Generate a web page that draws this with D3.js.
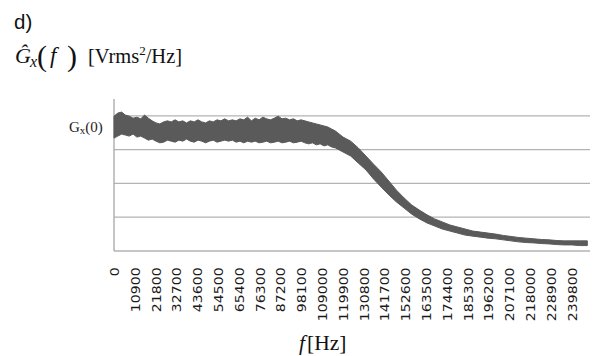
<!DOCTYPE html>
<html lang="en">
<head>
<meta charset="UTF-8" />
<title>Power spectral density</title>
<script src="https://d3js.org/d3.v7.min.js"></script>
<style>
  body { margin: 0; background: #fff; }
  svg { display: block; }
</style>
</head>
<body>
<script>
// frequency grid of the estimate [Hz]
const freqs = [
  0, 2000, 4000, 6000, 8000, 10000, 12000, 14000, 16000, 18000,
  20000, 22000, 24000, 26000, 28000, 30000, 32000, 34000, 36000, 38000,
  40000, 42000, 44000, 46000, 48000, 50000, 52000, 54000, 56000, 58000,
  60000, 62000, 64000, 66000, 68000, 70000, 72000, 74000, 76000, 78000,
  80000, 82000, 84000, 86000, 88000, 90000, 92000, 94000, 96000, 98000,
  100000, 102000, 104000, 106000, 108000, 110000, 112000, 114000, 116000, 118000,
  120000, 124000, 128000, 132000, 136000, 140000, 144000, 148000, 152000, 156000,
  160000, 164000, 168000, 172000, 176000, 180000, 184000, 188000, 192000, 196000,
  200000, 204000, 208000, 212000, 216000, 220000, 224000, 228000, 232000, 236000,
  240000, 244000, 248000
];

// upper / lower edge of the noisy estimate (grid units)
const upper = [
  3.99, 4.08, 4.11, 4.02, 3.99, 3.93, 3.96, 3.91, 4.02, 3.93,
  3.85, 3.79, 3.76, 3.82, 3.85, 3.82, 3.88, 3.82, 3.85, 3.79,
  3.85, 3.82, 3.88, 3.82, 3.79, 3.85, 3.82, 3.88, 3.85, 3.91,
  3.85, 3.88, 3.85, 3.91, 3.88, 3.96, 3.85, 3.93, 3.88, 3.96,
  3.91, 3.88, 3.93, 3.99, 3.91, 3.93, 3.88, 3.91, 3.85, 3.88,
  3.85, 3.82, 3.79, 3.76, 3.73, 3.70, 3.67, 3.61, 3.55, 3.46,
  3.37, 3.25, 3.05, 2.81, 2.57, 2.34, 2.07, 1.80, 1.57, 1.36,
  1.21, 1.07, 0.95, 0.86, 0.77, 0.71, 0.65, 0.59, 0.56, 0.53,
  0.50, 0.46, 0.43, 0.40, 0.38, 0.36, 0.34, 0.33, 0.31, 0.30,
  0.30, 0.30, 0.30
];
const lower = [
  3.34, 3.40, 3.46, 3.43, 3.40, 3.46, 3.37, 3.40, 3.34, 3.28,
  3.31, 3.25, 3.20, 3.22, 3.28, 3.25, 3.22, 3.28, 3.25, 3.31,
  3.25, 3.22, 3.28, 3.25, 3.20, 3.25, 3.28, 3.22, 3.25, 3.28,
  3.25, 3.28, 3.22, 3.25, 3.20, 3.25, 3.22, 3.25, 3.20, 3.22,
  3.25, 3.20, 3.22, 3.25, 3.20, 3.22, 3.25, 3.20, 3.22, 3.25,
  3.20, 3.17, 3.20, 3.14, 3.17, 3.11, 3.14, 3.08, 3.05, 2.99,
  2.93, 2.81, 2.60, 2.40, 2.13, 1.89, 1.66, 1.45, 1.27, 1.09,
  0.95, 0.83, 0.74, 0.65, 0.59, 0.53, 0.47, 0.44, 0.41, 0.38,
  0.36, 0.33, 0.30, 0.27, 0.25, 0.24, 0.22, 0.21, 0.19, 0.18,
  0.18, 0.16, 0.16
];

const gridValues = [0, 1, 2, 3, 4];
const tickFreqs = [
  0, 10900, 21800, 32700, 43600, 54500, 65400, 76300, 87200, 98100,
  109000, 119900, 130800, 141700, 152600, 163500, 174400, 185300, 196200,
  207100, 218000, 228900, 239800
];
const gx0Level = 3.67;

const W = 599, H = 356;
const serif = "'Liberation Serif', 'Times New Roman', serif";

const svg = d3.select("body").append("svg")
  .attr("width", W)
  .attr("height", H);

svg.append("rect").attr("width", W).attr("height", H).attr("fill", "#fff");

const x = d3.scaleLinear().domain([0, 249400]).range([114, 590]);
const y = d3.scaleLinear().domain([0, 4.5]).range([251, 98.9]);

// horizontal gridlines
svg.append("g")
  .selectAll("line")
  .data(gridValues)
  .join("line")
  .attr("x1", x.range()[0])
  .attr("x2", x.range()[1])
  .attr("y1", d => y(d))
  .attr("y2", d => y(d))
  .attr("stroke", "#b3b3b3")
  .attr("stroke-width", 1.3);

// left axis line
svg.append("line")
  .attr("x1", x.range()[0]).attr("x2", x.range()[0])
  .attr("y1", y(4.5)).attr("y2", y(0))
  .attr("stroke", "#a6a6a6")
  .attr("stroke-width", 1.3);

// noisy PSD band
const band = freqs.map((f, i) => ({ f, hi: upper[i], lo: lower[i] }));
svg.append("path")
  .datum(band)
  .attr("d", d3.area()
    .x(d => x(d.f))
    .y0(d => y(d.lo))
    .y1(d => y(d.hi)))
  .attr("fill", "#5a5a5a")
  .attr("stroke", "#5a5a5a")
  .attr("stroke-width", 1);

// x axis labels (rotated)
const xAxis = d3.axisBottom(x)
  .tickValues(tickFreqs)
  .tickSize(0)
  .tickFormat(d3.format("d"));

const gx = svg.append("g")
  .attr("transform", `translate(0,${y(0)})`)
  .call(xAxis);
gx.select(".domain").remove();
gx.selectAll("text")
  .attr("font-family", "'DejaVu Sans', Verdana, sans-serif")
  .attr("font-size", 12.5)
  .attr("fill", "#1a1a1a")
  .attr("text-anchor", "end")
  .attr("x", -14.5)
  .attr("y", 0)
  .attr("dy", "0.36em")
  .attr("transform", "rotate(-90) scale(1.13,1)");

// G_x(0) marker label
const gLab = svg.append("text")
  .attr("x", 69)
  .attr("y", y(gx0Level) + 5)
  .attr("font-family", serif)
  .attr("font-size", 15)
  .attr("fill", "#222");
gLab.append("tspan").text("G");
gLab.append("tspan").attr("font-size", 11).attr("dy", 2.5).text("x");
gLab.append("tspan").attr("dy", -2.5).text("(0)");

// panel tag
svg.append("text")
  .attr("x", 14).attr("y", 29)
  .attr("font-family", "'Liberation Sans', Arial, sans-serif")
  .attr("font-size", 20.5)
  .attr("fill", "#111")
  .text("d)");

// y quantity: G-hat_x(f) [Vrms^2/Hz]
svg.append("text")
  .attr("x", 15).attr("y", 63)
  .attr("font-family", serif).attr("font-style", "italic")
  .attr("font-size", 22).attr("fill", "#111")
  .text("\u011C");
svg.append("text")
  .attr("x", 30).attr("y", 67)
  .attr("font-family", serif).attr("font-style", "italic")
  .attr("font-size", 16).attr("fill", "#111")
  .text("x");
svg.append("text")
  .attr("x", 37).attr("y", 66)
  .attr("font-family", serif)
  .attr("font-size", 30).attr("fill", "#111")
  .text("(");
svg.append("text")
  .attr("x", 50).attr("y", 63)
  .attr("font-family", serif).attr("font-style", "italic")
  .attr("font-size", 23).attr("fill", "#111")
  .text("f");
svg.append("text")
  .attr("x", 67).attr("y", 66)
  .attr("font-family", serif)
  .attr("font-size", 30).attr("fill", "#111")
  .text(")");

const unit = svg.append("text")
  .attr("x", 88).attr("y", 63)
  .attr("font-family", serif)
  .attr("font-size", 20.5).attr("fill", "#111");
unit.append("tspan").text("[Vrms");
unit.append("tspan").attr("font-size", 13).attr("dy", -8).text("2");
unit.append("tspan").attr("dy", 8).text("/Hz]");

// x quantity: f [Hz]
const xt = svg.append("text")
  .attr("x", 299).attr("y", 350)
  .attr("font-family", serif)
  .attr("font-size", 21.5).attr("fill", "#111");
xt.append("tspan").attr("font-style", "italic").text("f");
xt.append("tspan").attr("dx", 2).text("[Hz]");
</script>
</body>
</html>
